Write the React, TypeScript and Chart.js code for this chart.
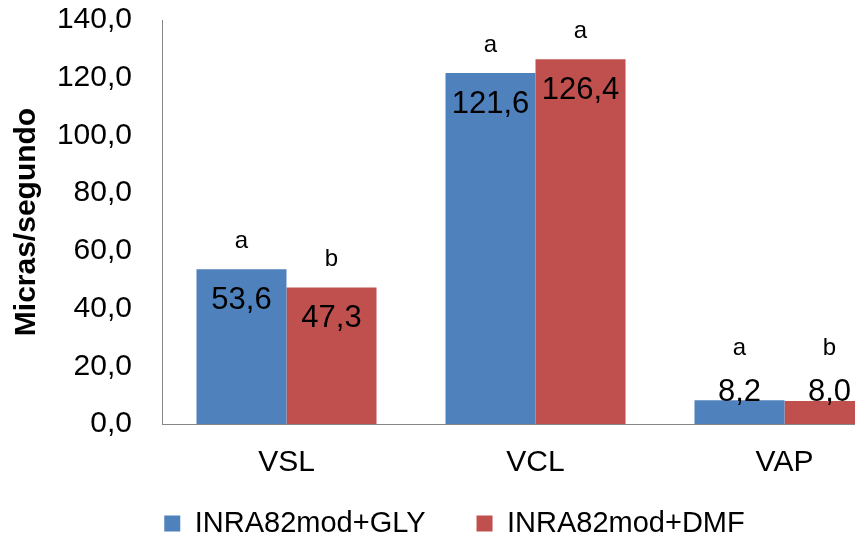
import React, { useEffect, useRef } from "react";
import { Chart, registerables } from "chart.js";

Chart.register(...registerables);

const categories = ["VSL", "VCL", "VAP"];
const seriesNames = ["INRA82mod+GLY", "INRA82mod+DMF"];
const glyValues = [53.6, 121.6, 8.2];
const dmfValues = [47.3, 126.4, 8.0];
const glyLetters = ["a", "a", "a"];
const dmfLetters = ["b", "a", "b"];
const yTicks = { min: 0, max: 140, step: 20 };
const yTitle = "Micras/segundo";

const FONT = "'Liberation Sans', Arial, sans-serif";
const fmt = (v: number) => v.toFixed(1).replace(".", ",");

const labelPlugin = {
  id: "barLabels",
  afterDatasetsDraw(chart: any) {
    const ctx = chart.ctx;
    const letters = [glyLetters, dmfLetters];
    chart.data.datasets.forEach((ds: any, di: number) => {
      const meta = chart.getDatasetMeta(di);
      meta.data.forEach((bar: any, i: number) => {
        const top = bar.y;
        const base = bar.base;
        const labelY = Math.min(top + 31, base - 32);
        const letterY = Math.min(top, labelY - 16) - 28;
        ctx.save();
        ctx.fillStyle = "#000";
        ctx.textAlign = "center";
        ctx.textBaseline = "middle";
        ctx.font = `31px ${FONT}`;
        ctx.fillText(fmt(ds.data[i]), bar.x, labelY);
        ctx.font = `24px ${FONT}`;
        ctx.fillText(letters[di][i], bar.x, letterY);
        ctx.restore();
      });
    });
  },
};

export default function App() {
  const ref = useRef<HTMLCanvasElement>(null);
  useEffect(() => {
    if (!ref.current) return;
    const chart = new Chart(ref.current, {
      type: "bar",
      data: {
        labels: categories,
        datasets: [
          { label: seriesNames[0], data: glyValues, backgroundColor: "#4F81BD", borderWidth: 0 },
          { label: seriesNames[1], data: dmfValues, backgroundColor: "#C0504D", borderWidth: 0 },
        ],
      },
      options: {
        responsive: false,
        animation: false,
        layout: { padding: { left: 0, right: 11, top: 20, bottom: -8 } },
        datasets: { bar: { categoryPercentage: 0.723, barPercentage: 1 } },
        plugins: {
          tooltip: { enabled: false },
          legend: {
            position: "bottom",
            labels: {
              boxWidth: 16,
              boxHeight: 16,
              padding: 51,
              color: "#000",
              font: { family: FONT, size: 29 },
            },
          },
        },
        scales: {
          x: {
            grid: { display: false, drawTicks: false },
            border: { display: true, color: "#868686", width: 1 },
            ticks: { color: "#000", font: { family: FONT, size: 30 }, padding: -57, mirror: true },
            afterFit: (s: any) => { s.height = 34; },
          },
          y: {
            min: yTicks.min,
            max: yTicks.max,
            grid: { display: false, drawTicks: false },
            border: { display: true, color: "#868686", width: 1 },
            ticks: {
              stepSize: yTicks.step,
              color: "#000",
              padding: 30,
              font: { family: FONT, size: 30 },
              callback: (v: any) => fmt(Number(v)),
            },
            title: {
              display: true,
              text: yTitle,
              color: "#000",
              font: { family: FONT, size: 30, weight: "bold" },
              padding: { top: 9, bottom: 0 },
            },
            afterFit: (s: any) => { s.width = 162; s.paddingTop = 0; },
          },
        },
      },
      plugins: [labelPlugin],
    });
    return () => chart.destroy();
  }, []);
  return (
    <div style={{ position: "fixed", left: 0, top: 0, width: 855, height: 540, overflow: "hidden", background: "#fff" }}>
      <canvas ref={ref} width={920} height={540} style={{ display: "block" }} />
    </div>
  );
}
